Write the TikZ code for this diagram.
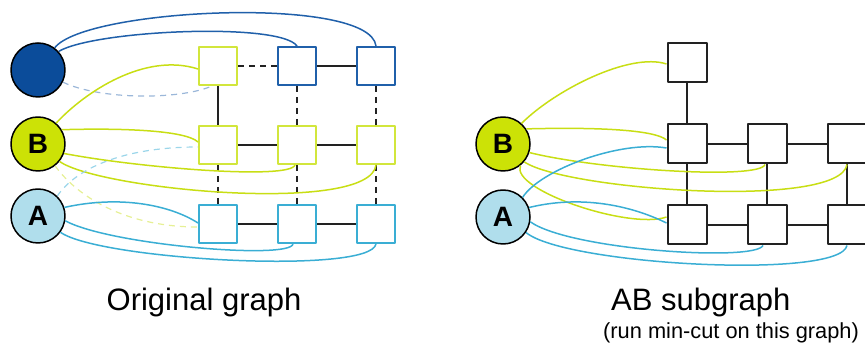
\documentclass[tikz,border=0pt]{standalone}
\usepackage{fontspec}
\setmainfont{Liberation Sans}
\definecolor{dkblue}{HTML}{0B4C9A}
\definecolor{dkblueline}{HTML}{2060AA}
\definecolor{limefill}{HTML}{CCE206}
\definecolor{limeline}{HTML}{C8DE14}
\definecolor{limesq}{HTML}{D2E63C}
\definecolor{ltfill}{HTML}{B0DEEC}
\definecolor{cyanline}{HTML}{3AAED4}
\definecolor{gridc}{HTML}{222222}
\begin{document}
\begin{tikzpicture}[x=1pt,y=-1pt,line join=round,
  circ/.style={circle,draw=black,line width=1.5pt,minimum size=54pt,inner sep=0pt,font=\fontsize{28}{28}\selectfont\bfseries},
  sqbox/.style={rectangle,line width=2pt,minimum size=38pt,inner sep=0pt,fill=white},
  sqG/.style={sqbox,draw=limesq},
  sqD/.style={sqbox,draw=dkblueline},
  sqL/.style={sqbox,draw=cyanline},
  sqK/.style={sqbox,draw=gridc,minimum size=39pt},
  gl/.style={draw=gridc,line width=1.5pt},
  gld/.style={gl,dash pattern=on 6pt off 5pt},
  cG/.style={draw=limeline,line width=1.5pt},
  cD/.style={draw=dkblueline,line width=1.5pt},
  cL/.style={draw=cyanline,line width=1.5pt},
  cGd/.style={draw=limeline!45,line width=1.2pt,dash pattern=on 6pt off 5pt},
  cDd/.style={draw=dkblueline!45,line width=1.2pt,dash pattern=on 6pt off 5pt},
  cLd/.style={draw=cyanline!50,line width=1.2pt,dash pattern=on 6pt off 5pt},
  lbl/.style={inner sep=0pt,anchor=base}
]
\useasboundingbox (0,0) rectangle (865,352);

% ---------- left panel: nodes ----------
\node[circ,fill=dkblue] (S) at (38,70) {};
\node[circ,fill=limefill] (B) at (38,144) {B};
\node[circ,fill=ltfill] (A) at (38,216) {A};

\node[sqG] (L11) at (218,66) {};
\node[sqD] (L12) at (297,66) {};
\node[sqD] (L13) at (376,66) {};
\node[sqG] (L21) at (218,145) {};
\node[sqG] (L22) at (297,145) {};
\node[sqG] (L23) at (376,145) {};
\node[sqL] (L31) at (218,224) {};
\node[sqL] (L32) at (297,224) {};
\node[sqL] (L33) at (376,224) {};

% grid edges
\draw[gld] (L11) -- (L12);
\draw[gl] (L12) -- (L13);
\draw[gl] (L11) -- (L21);
\draw[gld] (L12) -- (L22);
\draw[gld] (L13) -- (L23);
\draw[gl] (L21) -- (L22);
\draw[gl] (L22) -- (L23);
\draw[gld] (L21) -- (L31);
\draw[gld] (L22) -- (L32);
\draw[gld] (L23) -- (L33);
\draw[gl] (L31) -- (L32);
\draw[gl] (L32) -- (L33);

% curves
\draw[cD] (S.42) .. controls (95,30) and (280,22) .. (L12.north);
\draw[cD] (S.53) .. controls (85,8) and (370,-5) .. (L13.north);
\draw[cDd] (S.-26) .. controls (100,100) and (180,100) .. ([xshift=-6pt]L11.south);
\draw[cG] (B.49) .. controls (85,92) and (145,52) .. ([yshift=-3pt]L11.west);
\draw[cG] (B.31) .. controls (120,128) and (185,130) .. ([yshift=3pt]L21.west);
\draw[cG] (B.-20) .. controls (140,168) and (290,180) .. ([xshift=-2pt]L22.south);
\draw[cG] (B.-39) .. controls (100,190) and (370,215) .. (L23.south);
\draw[cLd] (A.46) .. controls (75,170) and (120,147) .. ([yshift=-2pt]L21.west);
\draw[cGd] (B.-52) .. controls (80,200) and (130,227) .. ([yshift=-3pt]L31.west);
\draw[cL] (A.18) .. controls (120,195) and (170,205) .. ([yshift=1pt]L31.west);
\draw[cL] (A.-10) .. controls (110,245) and (290,260) .. ([xshift=-4pt]L32.south);
\draw[cL] (A.-36) .. controls (100,260) and (370,275) .. (L33.south);

% ---------- right panel: nodes ----------
\node[circ,fill=limefill] (RB) at (503,144) {B};
\node[circ,fill=ltfill] (RA) at (503,217) {A};

\node[sqK] (R11) at (687,63) {};
\node[sqK] (R21) at (687,144) {};
\node[sqK] (R22) at (767,144) {};
\node[sqK] (R23) at (847,144) {};
\node[sqK] (R31) at (687,225) {};
\node[sqK] (R32) at (767,225) {};
\node[sqK] (R33) at (847,225) {};

\draw[gl] (R11) -- (R21);
\draw[gl] (R21) -- (R22);
\draw[gl] (R22) -- (R23);
\draw[gl] (R21) -- (R31);
\draw[gl] (R22) -- (R32);
\draw[gl] (R23) -- (R33);
\draw[gl] (R31) -- (R32);
\draw[gl] (R32) -- (R33);

\draw[cG] (RB.48) .. controls (555,90) and (630,52) .. ([yshift=-1pt]R11.west);
\draw[cG] (RB.33) .. controls (600,127) and (655,130) .. ([yshift=4pt]R21.west);
\draw[cG] (RB.-18) .. controls (600,170) and (760,180) .. ([xshift=-2pt]R22.south);
\draw[cG] (RB.-40) .. controls (565,190) and (840,210) .. (R23.south);
\draw[cG] (RB.-51) .. controls (510,190) and (630,230) .. ([yshift=8pt]R31.west);
\draw[cL] (RA.45) .. controls (540,170) and (620,140) .. ([yshift=-4pt]R21.west);
\draw[cL] (RA.20) .. controls (580,195) and (630,205) .. ([yshift=2pt]R31.west);
\draw[cL] (RA.-10) .. controls (570,250) and (755,262) .. ([xshift=-4pt]R32.south);
\draw[cL] (RA.-34) .. controls (565,265) and (840,280) .. (R33.south);

% ---------- labels ----------
\node[lbl,font=\fontsize{31}{31}\selectfont] (t1) at (204,311) {Original graph};
\node[lbl,anchor=base west,font=\fontsize{31}{31}\selectfont] (t2) at (611,311) {AB subgraph};
\node[lbl,anchor=base west,font=\fontsize{21.8}{22}\selectfont] (t3) at (603,339) {(run min-cut on this graph)};
\end{tikzpicture}
\end{document}
